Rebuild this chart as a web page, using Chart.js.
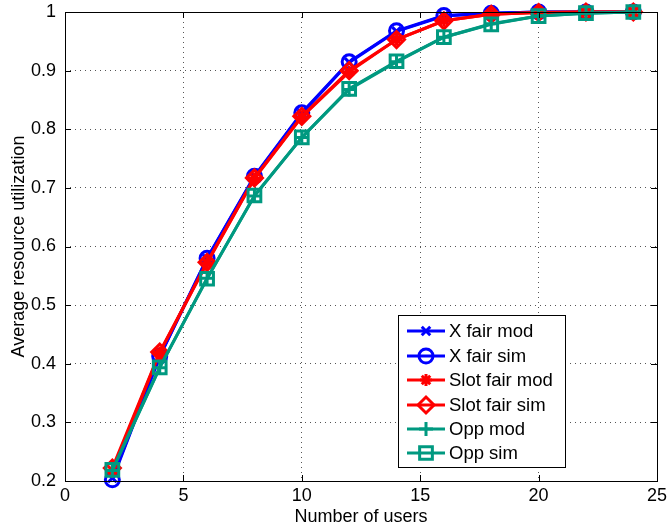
<!DOCTYPE html>
<html>
<head>
<meta charset="utf-8">
<script src="https://cdn.jsdelivr.net/npm/chart.js@4.4.1/dist/chart.umd.min.js"></script>
<style>
    html, body { margin: 0; padding: 0; background: #fff; }
    #wrap { width: 671px; height: 528px; }
</style>
</head>
<body>
<div id="wrap"><canvas id="chart"></canvas></div>
<script>
// Data
const users = [2, 4, 6, 8, 10, 12, 14, 16, 18, 20, 22, 24];
const xFairMod = [0.205, 0.412, 0.579, 0.719, 0.827, 0.914, 0.967, 0.993, 0.998, 1.0, 1.0, 1.0];
const xFairSim = [0.202, 0.413, 0.580, 0.720, 0.828, 0.915, 0.968, 0.994, 0.998, 1.0, 1.0, 1.0];
const slotFairMod = [0.218, 0.419, 0.572, 0.716, 0.821, 0.898, 0.953, 0.985, 0.996, 0.999, 1.0, 1.0];
const slotFairSim = [0.222, 0.420, 0.573, 0.717, 0.822, 0.900, 0.953, 0.985, 0.996, 0.999, 1.0, 1.0];
const oppMod = [0.218, 0.393, 0.546, 0.686, 0.786, 0.868, 0.915, 0.957, 0.980, 0.993, 0.998, 1.0];
const oppSim = [0.219, 0.394, 0.545, 0.687, 0.786, 0.869, 0.916, 0.957, 0.979, 0.993, 0.998, 1.0];
const xTicks = [0, 5, 10, 15, 20, 25];
const yTicks = [0.2, 0.3, 0.4, 0.5, 0.6, 0.7, 0.8, 0.9, 1];

const colors = {
    blue: "#0000FF",
    red: "#FF0000",
    teal: "#009980",
};

const FONT = "'Liberation Sans', Arial, Helvetica, sans-serif";
Chart.defaults.font.family = FONT;
Chart.defaults.color = "#000";

function series(label, values, color, style, radius) {
    return {
        label: label,
        data: users.map((u, i) => ({ x: u, y: values[i] })),
        borderColor: color,
        backgroundColor: "rgba(0,0,0,0)",
        borderWidth: 3,
        pointStyle: style,
        pointRadius: radius,
        pointBorderWidth: 3,
        pointBorderColor: color,
        pointBackgroundColor: "rgba(0,0,0,0)",
        tension: 0,
        clip: false,
    };
}

const datasets = [
    series("X fair mod", xFairMod, colors.blue, "crossRot", 6),
    series("X fair sim", xFairSim, colors.blue, "circle", 7),
    series("Slot fair mod", slotFairMod, colors.red, "star", 6),
    series("Slot fair sim", slotFairSim, colors.red, "rectRot", 8),
    series("Opp mod", oppMod, colors.teal, "cross", 7),
    series("Opp sim", oppSim, colors.teal, "rect", 9),
];
// later series on top, as in the original
datasets.forEach((d, i) => { d.order = datasets.length - i; });

// frame, inward ticks and boxed legend
const framePlugin = {
    id: "frame",
    afterDatasetsDraw(chart) {
        const ctx = chart.ctx;
        const a = chart.chartArea;
        const xs = chart.scales.x, ys = chart.scales.y;
        ctx.save();
        ctx.strokeStyle = "#000";
        ctx.lineWidth = 1;
        ctx.setLineDash([]);
        ctx.strokeRect(a.left + 0.5, a.top + 0.5, a.right - a.left, a.bottom - a.top);
        ctx.beginPath();
        xTicks.forEach(t => {
            const px = Math.round(xs.getPixelForValue(t)) + 0.5;
            ctx.moveTo(px, a.bottom); ctx.lineTo(px, a.bottom - 6);
            ctx.moveTo(px, a.top); ctx.lineTo(px, a.top + 6);
        });
        yTicks.forEach(t => {
            const py = Math.round(ys.getPixelForValue(t)) + 0.5;
            ctx.moveTo(a.left, py); ctx.lineTo(a.left + 6, py);
            ctx.moveTo(a.right, py); ctx.lineTo(a.right - 6, py);
        });
        ctx.stroke();
        ctx.restore();
    },
    afterDraw(chart) {
        const ctx = chart.ctx;
        const box = { x: 398, y: 315, w: 167, h: 152 };
        ctx.save();
        ctx.fillStyle = "#fff";
        ctx.fillRect(box.x, box.y, box.w, box.h);
        ctx.strokeStyle = "#000";
        ctx.lineWidth = 1;
        ctx.strokeRect(box.x + 0.5, box.y + 0.5, box.w, box.h);
        const rowY = [331, 356, 380, 405, 429, 453];
        chart.data.datasets.forEach((d, i) => {
            const y = rowY[i];
            ctx.strokeStyle = d.borderColor;
            ctx.lineWidth = 3;
            ctx.beginPath();
            ctx.moveTo(407, y);
            ctx.lineTo(445, y);
            ctx.stroke();
            ctx.fillStyle = "rgba(0,0,0,0)";
            Chart.helpers.drawPoint(ctx, {
                pointStyle: d.pointStyle,
                radius: d.pointRadius,
                rotation: 0,
                borderWidth: 3,
            }, 426, y);
            ctx.fillStyle = "#000";
            ctx.font = "18.5px " + FONT;
            ctx.textBaseline = "middle";
            ctx.textAlign = "left";
            ctx.fillText(d.label, 449, y + 1);
        });
        ctx.restore();
    },
};

const ctx = document.getElementById("chart").getContext("2d");
new Chart(ctx, {
    type: "line",
    data: { datasets: datasets },
    options: {
        responsive: true,
        maintainAspectRatio: false,
        animation: false,
        layout: { padding: { top: 11, right: 14, left: 0, bottom: 0 } },
        plugins: {
            legend: { display: false },
            tooltip: { enabled: false },
        },
        scales: {
            x: {
                type: "linear",
                min: 0,
                max: 25,
                afterBuildTicks: s => { s.ticks = xTicks.map(v => ({ value: v })); },
                afterFit: s => { s.height = 47; s.paddingLeft = 0; s.paddingRight = 0; },
                ticks: { font: { size: 18 }, padding: 4, maxRotation: 0 },
                grid: { color: "#555", lineWidth: 1, drawTicks: false },
                border: { display: false, dash: [1, 4] },
                title: {
                    display: true,
                    text: "Number of users",
                    font: { size: 18 },
                    padding: { top: 0, bottom: 0 },
                },
            },
            y: {
                type: "linear",
                min: 0.2,
                max: 1,
                afterBuildTicks: s => { s.ticks = yTicks.map(v => ({ value: v })); },
                afterFit: s => { s.width = 65; s.paddingTop = 0; s.paddingBottom = 0; },
                ticks: { font: { size: 18 }, padding: 9, callback: v => String(+v.toFixed(1)) },
                grid: { color: "#555", lineWidth: 1, drawTicks: false },
                border: { display: false, dash: [1, 4] },
                title: {
                    display: true,
                    text: "Average resource utilization",
                    font: { size: 18 },
                    padding: { top: 8, bottom: 0 },
                },
            },
        },
    },
    plugins: [framePlugin],
});
</script>
</body>
</html>
